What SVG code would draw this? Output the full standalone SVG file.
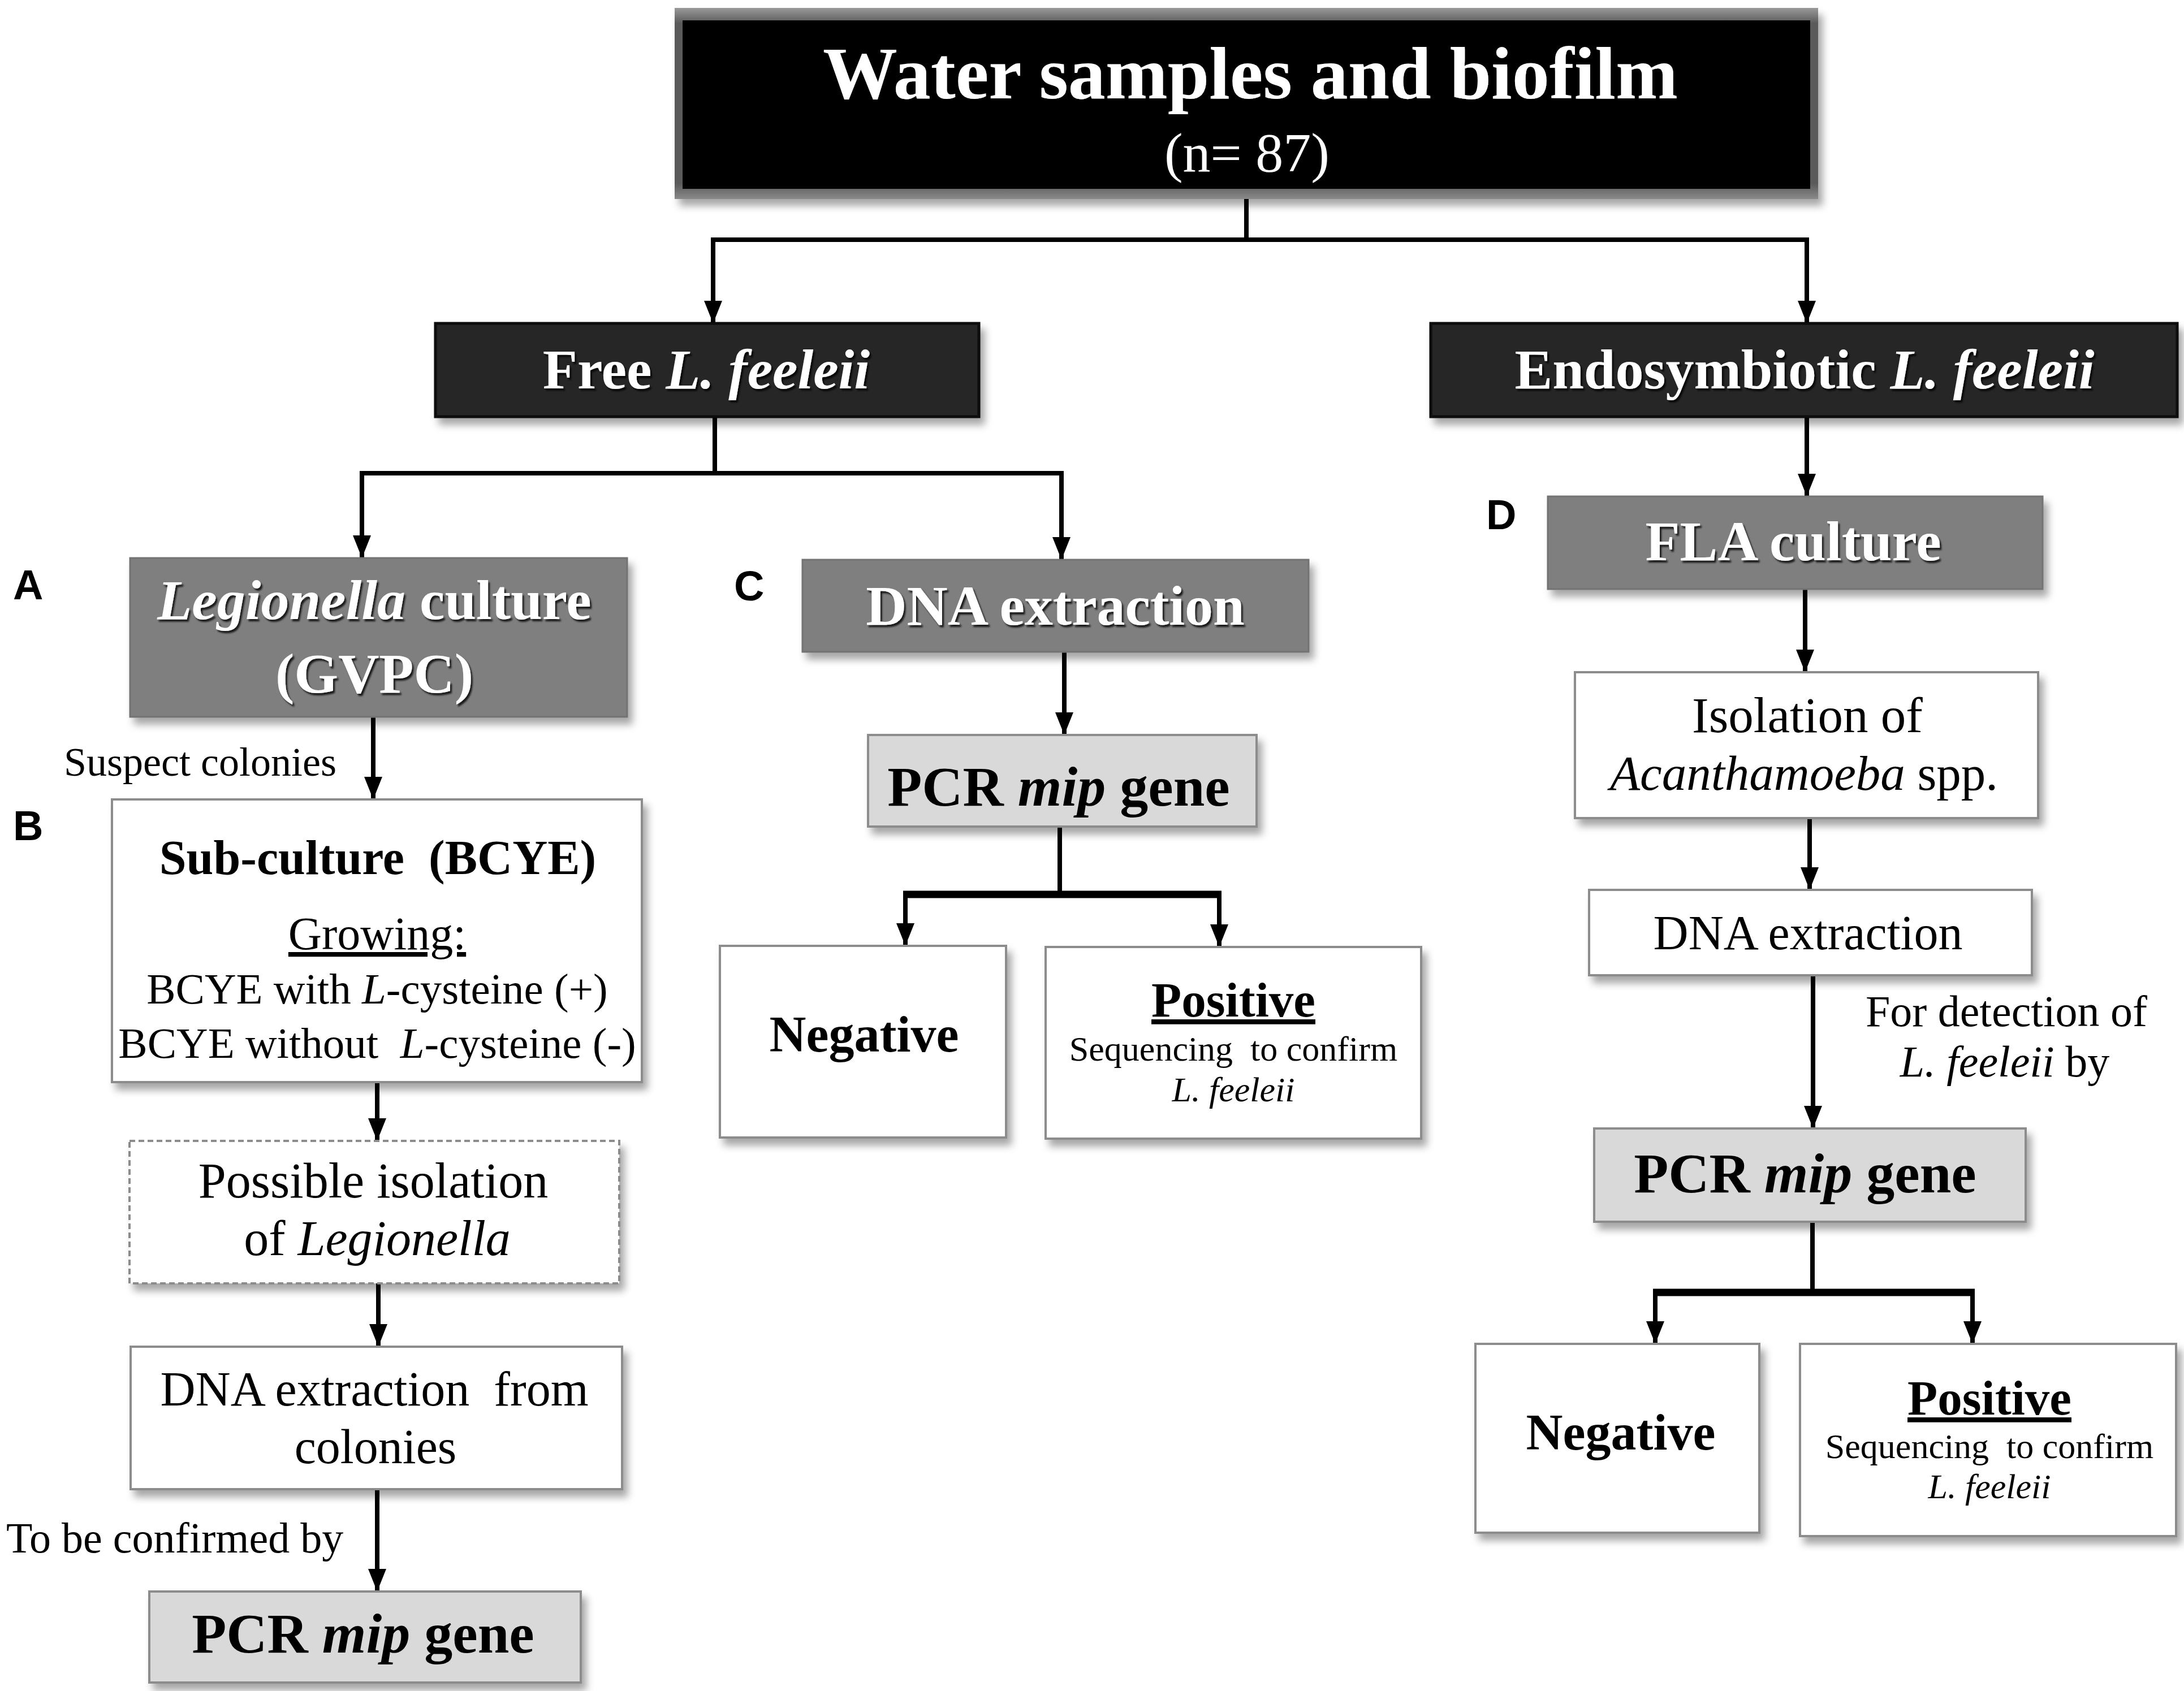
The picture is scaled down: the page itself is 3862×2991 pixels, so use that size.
<svg xmlns="http://www.w3.org/2000/svg" width="3862" height="2991" viewBox="0 0 3862 2991">
<defs>
<filter id="sh" x="-10%" y="-10%" width="130%" height="140%">
<feDropShadow dx="8" dy="12" stdDeviation="7" flood-color="#000" flood-opacity="0.35"/>
</filter>
<filter id="tsh" x="-5%" y="-20%" width="110%" height="150%">
<feDropShadow dx="3" dy="4" stdDeviation="1.5" flood-color="#000" flood-opacity="0.8"/>
</filter>
<marker id="ah" markerUnits="userSpaceOnUse" viewBox="0 0 40 32" markerWidth="40" markerHeight="32" refX="40" refY="16" orient="auto">
<path d="M0 0 L40 16 L0 32 z" fill="#000"/>
</marker>
<linearGradient id="frame" x1="0" y1="0" x2="0" y2="1">
<stop offset="0" stop-color="#9a9a9a"/>
<stop offset="0.08" stop-color="#5a5a5a"/>
<stop offset="0.92" stop-color="#5a5a5a"/>
<stop offset="1" stop-color="#8a8a8a"/>
</linearGradient>
</defs>
<style>
text{font-family:"Liberation Serif","Times New Roman",serif;text-anchor:middle;white-space:pre;}
.w{fill:#fff;font-weight:bold;filter:url(#tsh);}
.b{fill:#000;}
.bold{font-weight:bold;}
.lab{font-family:"Liberation Sans",Arial,sans-serif;font-weight:bold;text-anchor:start;font-size:74px;}
.dark{fill:#262626;stroke:#0d0d0d;stroke-width:5;filter:url(#sh);}
.mid{fill:#7f7f7f;stroke:#737373;stroke-width:3;filter:url(#sh);}
.light{fill:#d9d9d9;stroke:#8c8c8c;stroke-width:4;filter:url(#sh);}
.white{fill:#fff;stroke:#8c8c8c;stroke-width:4;filter:url(#sh);}
.dash{fill:#fff;stroke:#8c8c8c;stroke-width:4;stroke-dasharray:10 6;filter:url(#sh);}
.c{fill:none;stroke:#000;stroke-width:8;}
.ca{fill:none;stroke:#000;stroke-width:8;marker-end:url(#ah);}
.thick{fill:none;stroke:#000;stroke-width:13;}
</style>

<g id="connectors">
<path class="c" d="M2204 352 V424 M1257 424 H3199"/>
<path class="ca" d="M1261 424 V572"/>
<path class="ca" d="M3195 424 V572"/>
<path class="c" d="M1264 737 V837 M636 837 H1881"/>
<path class="ca" d="M640 837 V987"/>
<path class="ca" d="M1877 837 V990"/>
<path class="ca" d="M660 1268 V1414"/>
<path class="ca" d="M667 1914 V2018"/>
<path class="ca" d="M669 2270 V2382"/>
<path class="ca" d="M667 2634 V2815"/>
<path class="ca" d="M1882 1153 V1300"/>
<path class="c" d="M1874 1462 V1582"/>
<path class="thick" d="M1597 1582 H2160"/>
<path class="ca" d="M1601 1582 V1673"/>
<path class="ca" d="M2156 1582 V1675"/>
<path class="ca" d="M3195 737 V878"/>
<path class="ca" d="M3192 1042 V1189"/>
<path class="ca" d="M3200 1447 V1574"/>
<path class="ca" d="M3206 1725 V1996"/>
<path class="c" d="M3205 2161 V2286"/>
<path class="thick" d="M2923 2286 H3492"/>
<path class="ca" d="M2927 2286 V2377"/>
<path class="ca" d="M3488 2286 V2377"/>
<text class="b" x="113" y="1372" style="text-anchor:start" font-size="72">Suspect colonies</text>
<text class="b" x="11" y="2746" style="text-anchor:start" font-size="76">To be confirmed by</text>
<text class="b" x="3548" y="1815" font-size="78">For detection of</text>
<text class="b" x="3545" y="1904" font-size="78"><tspan font-style="italic">L. feeleii</tspan> by</text>
</g>

<g id="labels">
<text class="lab" x="23" y="1060">A</text>
<text class="lab" x="23" y="1486">B</text>
<text class="lab" x="1298" y="1062">C</text>
<text class="lab" x="2628" y="936">D</text>
</g>

<g id="n-top">
<rect x="1193" y="14" width="2022" height="338" fill="url(#frame)" filter="url(#sh)"/>
<rect x="1207" y="36" width="1994" height="298" fill="#000"/>
<text class="w" x="2211" y="174" font-size="132">Water samples and biofilm</text>
<text x="2205" y="303" font-size="98" fill="#fff">(n= 87)</text>
</g>

<g id="n-free">
<rect class="dark" x="770" y="572" width="961" height="165"/>
<text class="w" x="1249" y="687" font-size="100">Free <tspan font-style="italic">L. feeleii</tspan></text>
</g>

<g id="n-endo">
<rect class="dark" x="2530" y="572" width="1320" height="165"/>
<text class="w" x="3191" y="687" font-size="100">Endosymbiotic <tspan font-style="italic">L. feeleii</tspan></text>
</g>

<g id="n-legionella">
<rect class="mid" x="230" y="987" width="879" height="281"/>
<text class="w" x="662" y="1095" font-size="100"><tspan font-style="italic">Legionella</tspan> culture</text>
<text class="w" x="662" y="1225" font-size="100">(GVPC)</text>
</g>

<g id="n-subculture">
<rect class="white" x="198" y="1414" width="937" height="500"/>
<text class="b bold" x="668" y="1546" font-size="86">Sub-culture  (BCYE)</text>
<text class="b" x="667" y="1679" font-size="82" text-decoration="underline">Growing:</text>
<text class="b" x="667" y="1775" font-size="77">BCYE with <tspan font-style="italic">L</tspan>-cysteine (+)</text>
<text class="b" x="667" y="1871" font-size="77">BCYE without  <tspan font-style="italic">L</tspan>-cysteine (-)</text>
</g>

<g id="n-possible">
<rect class="dash" x="229" y="2018" width="866" height="252"/>
<text class="b" x="660" y="2118" font-size="88">Possible isolation</text>
<text class="b" x="667" y="2220" font-size="88">of <tspan font-style="italic">Legionella</tspan></text>
</g>

<g id="n-dnacol">
<rect class="white" x="231" y="2382" width="869" height="252"/>
<text class="b" x="662" y="2486" font-size="86">DNA extraction  from</text>
<text class="b" x="664" y="2588" font-size="86">colonies</text>
</g>

<g id="n-pcr-a">
<rect class="light" x="264" y="2815" width="763" height="161"/>
<text class="b bold" x="642" y="2923" font-size="100">PCR <tspan font-style="italic">mip</tspan> gene</text>
</g>

<g id="n-dna-c">
<rect class="mid" x="1419" y="990" width="895" height="163"/>
<text class="w" x="1866" y="1105" font-size="100">DNA extraction</text>
</g>

<g id="n-pcr-c">
<rect class="light" x="1535" y="1300" width="687" height="162"/>
<text class="b bold" x="1872" y="1425" font-size="100">PCR <tspan font-style="italic">mip</tspan> gene</text>
</g>

<g id="n-neg-c">
<rect class="white" x="1273" y="1673" width="506" height="339"/>
<text class="b bold" x="1528" y="1860" font-size="90">Negative</text>
</g>

<g id="n-pos-c">
<rect class="white" x="1849" y="1675" width="664" height="339"/>
<text class="b bold" x="2181" y="1798" font-size="87" text-decoration="underline">Positive</text>
<text class="b" x="2181" y="1876" font-size="62">Sequencing  to confirm</text>
<text class="b" x="2181" y="1948" font-size="62" font-style="italic">L. feeleii</text>
</g>

<g id="n-fla">
<rect class="mid" x="2737" y="878" width="875" height="164"/>
<text class="w" x="3171" y="991" font-size="100">FLA culture</text>
</g>

<g id="n-isolation">
<rect class="white" x="2785" y="1189" width="819" height="258"/>
<text class="b" x="3196" y="1295" font-size="89">Isolation of</text>
<text class="b" x="3190" y="1397" font-size="87"><tspan font-style="italic">Acanthamoeba</tspan> spp.</text>
</g>

<g id="n-dna-d">
<rect class="white" x="2810" y="1574" width="783" height="151"/>
<text class="b" x="3197" y="1679" font-size="86">DNA extraction</text>
</g>

<g id="n-pcr-d">
<rect class="light" x="2819" y="1996" width="763" height="165"/>
<text class="b bold" x="3192" y="2109" font-size="100">PCR <tspan font-style="italic">mip</tspan> gene</text>
</g>

<g id="n-neg-d">
<rect class="white" x="2609" y="2377" width="502" height="334"/>
<text class="b bold" x="2866" y="2564" font-size="90">Negative</text>
</g>

<g id="n-pos-d">
<rect class="white" x="3183" y="2377" width="665" height="340"/>
<text class="b bold" x="3518" y="2502" font-size="87" text-decoration="underline">Positive</text>
<text class="b" x="3518" y="2579" font-size="62">Sequencing  to confirm</text>
<text class="b" x="3518" y="2650" font-size="62" font-style="italic">L. feeleii</text>
</g>
</svg>
